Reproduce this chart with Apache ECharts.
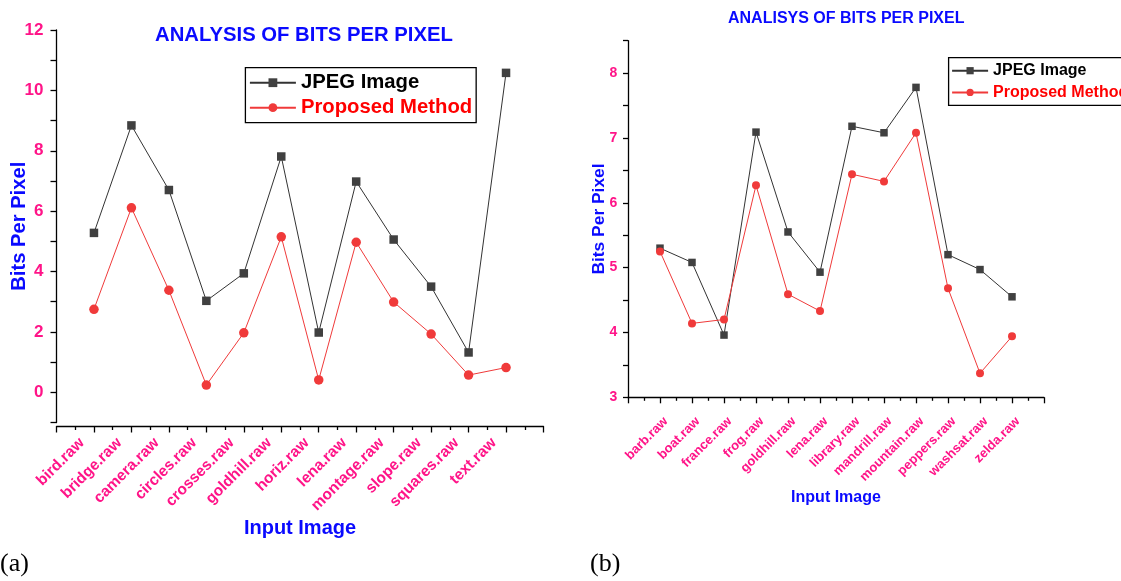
<!DOCTYPE html>
<html>
<head>
<meta charset="utf-8">
<script src="https://cdn.jsdelivr.net/npm/echarts@6/dist/echarts.min.js"></script>
<style>
html,body{margin:0;padding:0;background:#fff;}
#chart{width:1121px;height:581px;}
</style>
</head>
<body>
<div id="chart"></div>
<script>
// ---- Data (a) ----
const catsA = ['bird.raw','bridge.raw','camera.raw','circles.raw','crosses.raw','goldhill.raw','horiz.raw','lena.raw','montage.raw','slope.raw','squares.raw','text.raw'];
const jpegA = [5.28, 8.84, 6.70, 3.03, 3.94, 7.81, 1.98, 6.98, 5.06, 3.50, 1.32, 10.58];
const propA = [2.75, 6.11, 3.38, 0.24, 1.97, 5.15, 0.41, 4.97, 2.99, 1.93, 0.57, 0.82];
// ---- Data (b) ----
const catsB = ['barb.raw','boat.raw','france.raw','frog.raw','goldhill.raw','lena.raw','library.raw','mandrill.raw','mountain.raw','peppers.raw','washsat.raw','zelda.raw'];
const jpegB = [5.30, 5.08, 3.96, 7.09, 5.55, 4.93, 7.18, 7.08, 7.78, 5.20, 4.97, 4.55];
const propB = [5.25, 4.14, 4.20, 6.27, 4.59, 4.33, 6.44, 6.33, 7.08, 4.68, 3.37, 3.94];

const PINK = '#ff1488';
const BLUE = '#0a0aff';
const GRAY = '#404040';
const RED = '#f03a3a';
const FONT = "'Liberation Sans', Arial, sans-serif";

function pairs(arr){ return arr.map((v,i)=>[i+1, v]); }

function xAxisFor(cats, gridIndex, fs, nameFs, nameGap, offset, margin, pad){
  return {
    type:'value', gridIndex, min:0, max:13, interval:1, offset,
    name:'Input Image', nameLocation:'middle', nameGap, nameMoveOverlap:false,
    nameTextStyle:{color:BLUE, fontWeight:'bold', fontSize:nameFs, fontFamily:FONT},
    axisLine:{show:true, onZero:false, lineStyle:{color:'#000', width:1.3}},
    axisTick:{show:true, length:6, lineStyle:{color:'#000', width:1.3}},
    minorTick:{show:true, splitNumber:2, length:3.5, lineStyle:{color:'#000', width:1.3}},
    splitLine:{show:false}, minorSplitLine:{show:false},
    axisLabel:{
      rotate:45, margin, padding:pad, color:PINK, fontWeight:'bold', fontSize:fs, fontFamily:FONT,
      showMinLabel:true, showMaxLabel:true, hideOverlap:false,
      formatter:(v)=>{ const i=Math.round(v); return (i>=1 && i<=cats.length) ? cats[i-1] : ''; }
    }
  };
}

const option = {
  animation:false,
  backgroundColor:'#fff',
  title:[
    {text:'ANALYSIS OF BITS PER PIXEL', left:155, top:25.5, padding:0,
     textStyle:{color:BLUE, fontWeight:'bold', fontSize:20.3, fontFamily:FONT}},
    {text:'ANALISYS OF BITS PER PIXEL', left:728, top:11, padding:0,
     textStyle:{color:BLUE, fontWeight:'bold', fontSize:16, fontFamily:FONT}}
  ],
  legend:[
    {orient:'vertical', left:245.4, top:67.7, padding:[5,4,5,3.5], itemGap:5,
     itemWidth:46, itemHeight:11, borderColor:'#000', borderWidth:1.3,
     textStyle:{fontWeight:'bold', fontSize:20.3, fontFamily:FONT},
     data:[{name:'JPEG Image', textStyle:{color:'#000'}},
           {name:'Proposed Method', textStyle:{color:'#ff0000'}}]},
    {orient:'vertical', left:948.6, top:57.7, padding:[5,4,5,2.5], itemGap:5.7,
     itemWidth:36, itemHeight:9, borderColor:'#000', borderWidth:1.3,
     textStyle:{fontWeight:'bold', fontSize:16, fontFamily:FONT},
     data:[{name:'JPEG Image', textStyle:{color:'#000'}},
           {name:'Proposed Method', textStyle:{color:'#ff0000'}}]}
  ],
  graphic:[
    {type:'text', left:0, top:551, style:{text:'(a)', font:'26px "Liberation Serif", serif', fill:'#000'}},
    {type:'text', left:590, top:551, style:{text:'(b)', font:'26px "Liberation Serif", serif', fill:'#000'}}
  ],
  grid:[
    {left:56.5, top:30, width:487, height:392.5},
    {left:628, top:40.7, width:416, height:356.6}
  ],
  xAxis:[
    xAxisFor(catsA, 0, 15.5, 20, 91.5, 4, 2, [0,17,0,0]),
    xAxisFor(catsB, 1, 13, 16, 92, 0, 28, [0,-8.4,0,0])
  ],
  yAxis:[
    {type:'value', gridIndex:0, min:-1, max:12, interval:1,
     name:'Bits Per Pixel', nameLocation:'middle', nameGap:26.8, nameMoveOverlap:false,
     nameTextStyle:{color:BLUE, fontWeight:'bold', fontSize:20.2, fontFamily:FONT},
     axisLine:{show:true, onZero:false, lineStyle:{color:'#000', width:1.3}},
     axisTick:{show:true, length:6, lineStyle:{color:'#000', width:1.3}},
     splitLine:{show:false},
     axisLabel:{margin:13, color:PINK, fontWeight:'bold', fontSize:17, fontFamily:FONT,
       formatter:(v)=> (Math.round(v)%2===0 ? String(Math.round(v)) : '')}},
    {type:'value', gridIndex:1, min:3, max:8.5, interval:0.5,
     name:'Bits Per Pixel', nameLocation:'middle', nameGap:20.7, nameMoveOverlap:false,
     nameTextStyle:{color:BLUE, fontWeight:'bold', fontSize:17.4, fontFamily:FONT},
     axisLine:{show:true, onZero:false, lineStyle:{color:'#000', width:1.3}},
     axisTick:{show:true, length:5, lineStyle:{color:'#000', width:1.3}},
     splitLine:{show:false},
     axisLabel:{margin:10.8, color:PINK, fontWeight:'bold', fontSize:14, fontFamily:FONT,
       formatter:(v)=> (Math.abs(v-Math.round(v))<1e-6 && v<8.4 ? String(Math.round(v)) : '')}}
  ],
  series:[
    {name:'JPEG Image', type:'line', xAxisIndex:0, yAxisIndex:0, data:pairs(jpegA),
     symbol:'rect', symbolSize:8.5, lineStyle:{color:'#333', width:1},
     itemStyle:{color:GRAY}},
    {name:'Proposed Method', type:'line', xAxisIndex:0, yAxisIndex:0, data:pairs(propA),
     symbol:'circle', symbolSize:9.5, lineStyle:{color:RED, width:1},
     itemStyle:{color:RED}},
    {name:'JPEG Image', type:'line', xAxisIndex:1, yAxisIndex:1, data:pairs(jpegB),
     symbol:'rect', symbolSize:7.5, lineStyle:{color:'#333', width:1},
     itemStyle:{color:GRAY}},
    {name:'Proposed Method', type:'line', xAxisIndex:1, yAxisIndex:1, data:pairs(propB),
     symbol:'circle', symbolSize:8, lineStyle:{color:RED, width:1},
     itemStyle:{color:RED}}
  ]
};
const chart = echarts.init(document.getElementById('chart'), null, {renderer:'canvas'});
chart.setOption(option);
</script>
</body>
</html>
